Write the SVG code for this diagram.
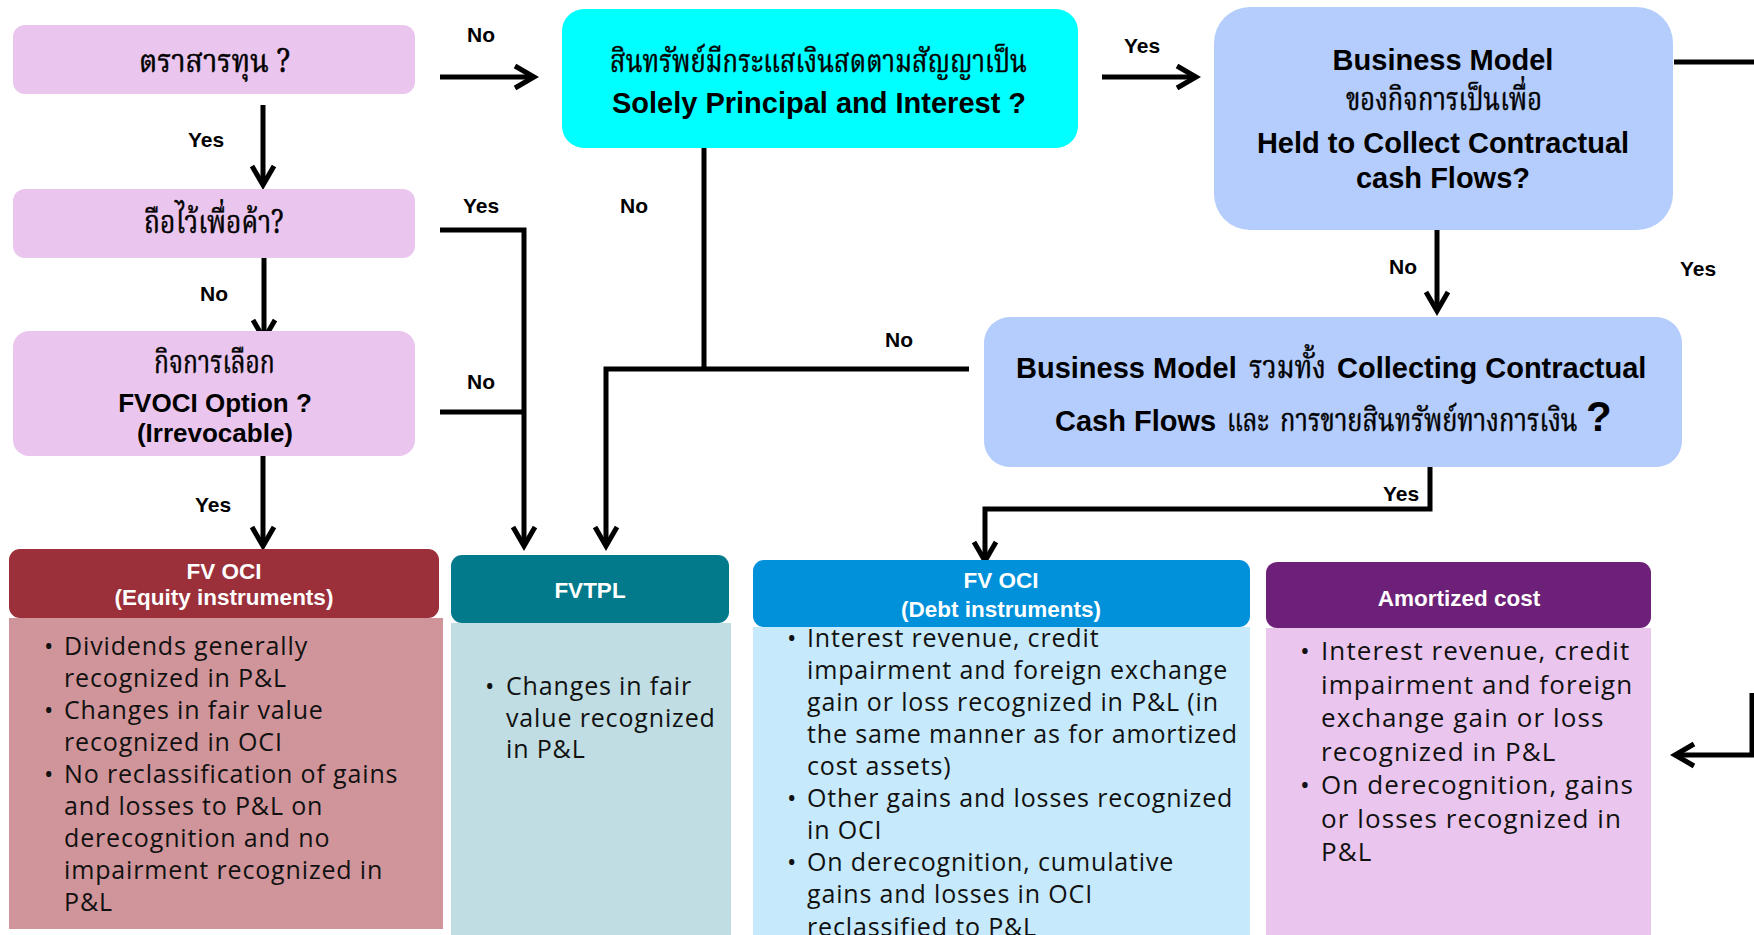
<svg xmlns="http://www.w3.org/2000/svg" width="1754" height="935" viewBox="0 0 1754 935">
<defs>
<style>
.lbl{font-family:"Liberation Sans",Arial,sans-serif;font-weight:bold;font-size:21px;fill:#000;text-anchor:middle}
.th{font-family:"Noto Serif Thai","Noto Sans Thai Looped","Noto Sans Thai","Noto Sans","DejaVu Sans",sans-serif;font-weight:normal;font-size:32px;fill:#000;stroke:#000;stroke-width:0.5}
.en{font-family:"Liberation Sans",Arial,sans-serif;font-weight:bold;fill:#000}
.hd{font-family:"Liberation Sans",Arial,sans-serif;font-weight:bold;font-size:22.5px;fill:#fff;text-anchor:middle}
.bd{font-family:"Open Sans","Liberation Sans",sans-serif;font-size:25px;letter-spacing:0.85px;fill:#111}
.bd2{font-family:"Open Sans","Liberation Sans",sans-serif;font-size:26px;letter-spacing:1.1px;fill:#111}
.conn{stroke:#000;stroke-width:5;fill:none}
.pink{fill:#EAC6EE}
.blue{fill:#B4CDFC}
</style>
<marker id="ah" markerUnits="userSpaceOnUse" markerWidth="30" markerHeight="30" viewBox="-25 -15 30 30" refX="0" refY="0" orient="auto">
<path d="M-19,-11 L0,0 L-19,11" fill="none" stroke="#000" stroke-width="5"/>
</marker>
</defs>
<rect width="1754" height="935" fill="#fff"/>

<g id="connectors">
<path class="conn" d="M440,77 H534" marker-end="url(#ah)"/>
<path class="conn" d="M263,105 V185" marker-end="url(#ah)"/>
<path class="conn" d="M264,258 V339" marker-end="url(#ah)"/>
<path class="conn" d="M263,456 V546" marker-end="url(#ah)"/>
<path class="conn" d="M440,230 H524 V546" marker-end="url(#ah)"/>
<path class="conn" d="M440,412 H524"/>
<path class="conn" d="M704,148 V369"/>
<path class="conn" d="M969,369 H606 V546" marker-end="url(#ah)"/>
<path class="conn" d="M1102,77 H1196" marker-end="url(#ah)"/>
<path class="conn" d="M1674,62 H1760"/>
<path class="conn" d="M1752,693 V755 H1675" marker-end="url(#ah)"/>
<path class="conn" d="M1437,230 V311" marker-end="url(#ah)"/>
<path class="conn" d="M1430,467 V509 H985 V561" marker-end="url(#ah)"/>
<text class="lbl" x="481" y="42">No</text>
<text class="lbl" x="206" y="147">Yes</text>
<text class="lbl" x="214" y="301">No</text>
<text class="lbl" x="213" y="512">Yes</text>
<text class="lbl" x="481" y="213">Yes</text>
<text class="lbl" x="481" y="389">No</text>
<text class="lbl" x="634" y="213">No</text>
<text class="lbl" x="899" y="347">No</text>
<text class="lbl" x="1142" y="53">Yes</text>
<text class="lbl" x="1403" y="274">No</text>
<text class="lbl" x="1698" y="276">Yes</text>
<text class="lbl" x="1401" y="501">Yes</text>
</g>

<g id="q-equity">
<rect class="pink" x="13" y="25" width="402" height="69" rx="12"/>
<text class="th" transform="translate(139,72) scale(0.915,1)" textLength="165" lengthAdjust="spacingAndGlyphs">ตราสารทุน ?</text>
</g>

<g id="q-trading">
<rect class="pink" x="13" y="189" width="402" height="69" rx="12"/>
<text class="th" transform="translate(144,233) scale(0.841,1)" textLength="166" lengthAdjust="spacingAndGlyphs">ถือไว้เพื่อค้า?</text>
</g>

<g id="q-fvoci-option">
<rect class="pink" x="13" y="331" width="402" height="125" rx="16"/>
<text class="th" transform="translate(154,373) scale(0.79,1)" textLength="153" lengthAdjust="spacingAndGlyphs">กิจการเลือก</text>
<text class="en" x="215" y="412" font-size="26" text-anchor="middle">FVOCI Option ?</text>
<text class="en" x="215" y="442" font-size="26" text-anchor="middle">(Irrevocable)</text>
</g>

<g id="q-sppi">
<rect x="562" y="9" width="516" height="139" rx="22" fill="#00FFFF"/>
<text class="th" transform="translate(610,72) scale(0.816,1)" textLength="511" lengthAdjust="spacingAndGlyphs">สินทรัพย์มีกระแสเงินสดตามสัญญาเป็น</text>
<text class="en" x="819" y="113" font-size="29" text-anchor="middle">Solely Principal and Interest ?</text>
</g>

<g id="q-htc">
<rect class="blue" x="1214" y="7" width="459" height="223" rx="36"/>
<text class="en" x="1443" y="70" font-size="29" text-anchor="middle">Business Model</text>
<text class="th" transform="translate(1346,110) scale(0.803,1)" textLength="244" lengthAdjust="spacingAndGlyphs">ของกิจการเป็นเพื่อ</text>
<text class="en" x="1443" y="153" font-size="29" text-anchor="middle">Held to Collect Contractual</text>
<text class="en" x="1443" y="188" font-size="29" text-anchor="middle">cash Flows?</text>
</g>

<g id="q-htcs">
<rect class="blue" x="984" y="317" width="698" height="150" rx="26"/>
<text class="en" x="1016" y="378" font-size="29">Business Model</text>
<text class="th" transform="translate(1249,378) scale(0.865,1)" textLength="89" lengthAdjust="spacingAndGlyphs">รวมทั้ง</text>
<text class="en" x="1337" y="378" font-size="29">Collecting Contractual</text>
<text class="en" x="1055" y="431" font-size="29">Cash Flows</text>
<text class="th" x="1227" y="431" textLength="42" lengthAdjust="spacingAndGlyphs">และ</text>
<text class="th" transform="translate(1280,431) scale(0.8,1)" textLength="372" lengthAdjust="spacingAndGlyphs">การขายสินทรัพย์ทางการเงิน</text>
<text class="en" x="1586" y="431" font-size="42">?</text>
</g>

<g id="r-fvoci-equity">
<rect x="9" y="618" width="434" height="311" fill="#D0959A"/>
<rect x="9" y="549" width="430" height="69" rx="11" fill="#9B2F3A"/>
<text class="hd" x="224" y="579">FV OCI</text>
<text class="hd" x="224" y="605">(Equity instruments)</text>
<text class="bd" x="44" y="655">•</text>
<text class="bd" x="64" y="655">Dividends generally</text>
<text class="bd" x="64" y="687">recognized in P&amp;L</text>
<text class="bd" x="44" y="719">•</text>
<text class="bd" x="64" y="719">Changes in fair value</text>
<text class="bd" x="64" y="751">recognized in OCI</text>
<text class="bd" x="44" y="783">•</text>
<text class="bd" x="64" y="783">No reclassification of gains</text>
<text class="bd" x="64" y="815">and losses to P&amp;L on</text>
<text class="bd" x="64" y="847">derecognition and no</text>
<text class="bd" x="64" y="879">impairment recognized in</text>
<text class="bd" x="64" y="911">P&amp;L</text>
</g>

<g id="r-fvtpl">
<rect x="451" y="623" width="280" height="312" fill="#BFDDE2"/>
<rect x="451" y="555" width="278" height="68" rx="11" fill="#037A8B"/>
<text class="hd" x="590" y="598">FVTPL</text>
<text class="bd" x="485" y="695">•</text>
<text class="bd" x="506" y="695">Changes in fair</text>
<text class="bd" x="506" y="727">value recognized</text>
<text class="bd" x="506" y="758">in P&amp;L</text>
</g>

<g id="r-fvoci-debt">
<rect x="753" y="627" width="497" height="308" fill="#C6E9FB"/>
<rect x="753" y="560" width="497" height="67" rx="11" fill="#0091DA"/>
<text class="hd" x="1001" y="588">FV OCI</text>
<text class="hd" x="1001" y="617">(Debt instruments)</text>
<text class="bd" x="787" y="647">•</text>
<text class="bd" x="807" y="647">Interest revenue, credit</text>
<text class="bd" x="807" y="679">impairment and foreign exchange</text>
<text class="bd" x="807" y="711">gain or loss recognized in P&amp;L (in</text>
<text class="bd" x="807" y="743">the same manner as for amortized</text>
<text class="bd" x="807" y="775">cost assets)</text>
<text class="bd" x="787" y="807">•</text>
<text class="bd" x="807" y="807">Other gains and losses recognized</text>
<text class="bd" x="807" y="839">in OCI</text>
<text class="bd" x="787" y="871">•</text>
<text class="bd" x="807" y="871">On derecognition, cumulative</text>
<text class="bd" x="807" y="903">gains and losses in OCI</text>
<text class="bd" x="807" y="936">reclassified to P&amp;L</text>
</g>

<g id="r-amortized">
<rect x="1266" y="628" width="385" height="307" fill="#EAC6EE"/>
<rect x="1266" y="562" width="385" height="66" rx="11" fill="#6D2077"/>
<text class="hd" x="1459" y="606" font-size="26.5">Amortized cost</text>
<text class="bd2" x="1300" y="660">•</text>
<text class="bd2" x="1321" y="660">Interest revenue, credit</text>
<text class="bd2" x="1321" y="693.5">impairment and foreign</text>
<text class="bd2" x="1321" y="727">exchange gain or loss</text>
<text class="bd2" x="1321" y="760.5">recognized in P&amp;L</text>
<text class="bd2" x="1300" y="794">•</text>
<text class="bd2" x="1321" y="794">On derecognition, gains</text>
<text class="bd2" x="1321" y="827.5">or losses recognized in</text>
<text class="bd2" x="1321" y="861">P&amp;L</text>
</g>
</svg>
